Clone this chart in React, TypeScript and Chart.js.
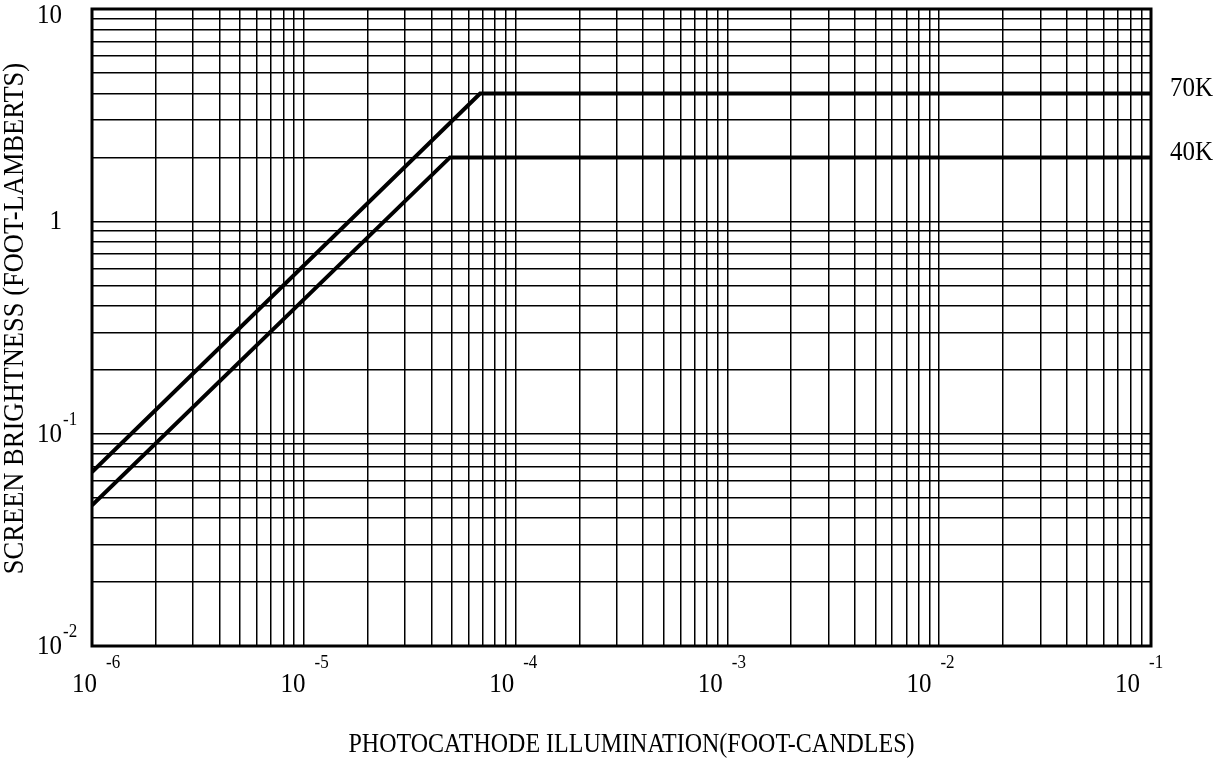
import React, { useEffect, useRef } from "react";
import { Chart, registerables } from "chart.js";

Chart.register(...registerables);

// ---- data ----
const seriesNames = ["70K", "40K"];
const illum70K = [1e-6, 6.8e-5, 1e-1];
const bright70K = [0.066, 4, 4];
const illum40K = [1e-6, 4.9e-5, 1e-1];
const bright40K = [0.046, 2, 2];

const xMin = 1e-6;
const xMax = 1e-1;
const yMin = 1e-2;
const yMax = 10;

const xTickValues = [1e-6, 1e-5, 1e-4, 1e-3, 1e-2, 1e-1];
const xTickBases = ["10", "10", "10", "10", "10", "10"];
const xTickExps = ["-6", "-5", "-4", "-3", "-2", "-1"];

const yTickValues = [10, 1, 0.1, 0.01];
const yTickBases = ["10", "1", "10", "10"];
const yTickExps = ["", "", "-1", "-2"];

const xTitle = "PHOTOCATHODE ILLUMINATION(FOOT-CANDLES)";
const yTitle = "SCREEN BRIGHTNESS (FOOT-LAMBERTS)";

const FONT = "'Liberation Serif', 'Times New Roman', Times, serif";
const STRETCH = 1.1;

function logGridTicks(min: number, max: number) {
  const out: { value: number }[] = [];
  const e0 = Math.round(Math.log10(min));
  const e1 = Math.round(Math.log10(max));
  for (let e = e0; e < e1; e++) {
    for (let k = 1; k <= 9; k++) out.push({ value: k * Math.pow(10, e) });
  }
  out.push({ value: max });
  return out;
}

const toPoints = (xs: number[], ys: number[]) => xs.map((x, i) => ({ x, y: ys[i] }));

function txt(
  ctx: CanvasRenderingContext2D,
  s: string,
  x: number,
  y: number,
  size: number,
  align: CanvasTextAlign
) {
  ctx.save();
  ctx.translate(x, y);
  ctx.scale(1, STRETCH);
  ctx.font = `${size}px ${FONT}`;
  ctx.textAlign = align;
  ctx.textBaseline = "alphabetic";
  ctx.fillText(s, 0, 0);
  ctx.restore();
}

const decorPlugin = {
  id: "decor",
  afterDraw(chart: any) {
    const ctx = chart.ctx as CanvasRenderingContext2D;
    const { left, right, top, bottom } = chart.chartArea;
    const xs = chart.scales.x;
    const ys = chart.scales.y;
    ctx.save();
    // frame
    ctx.strokeStyle = "#000";
    ctx.lineWidth = 3;
    ctx.strokeRect(left, top, right - left, bottom - top);

    ctx.fillStyle = "#000";
    // y tick labels
    yTickValues.forEach((v, i) => {
      let cy = ys.getPixelForValue(v);
      cy = Math.max(cy, top + 6);
      const baseRight = left - 30;
      txt(ctx, yTickBases[i], baseRight, cy + 8, 25, "right");
      if (yTickExps[i]) txt(ctx, yTickExps[i], baseRight + 1, cy - 9, 17, "left");
    });

    // x tick labels
    const n = xTickValues.length;
    const first = xs.getPixelForValue(xTickValues[0]) + 5;
    const last = xs.getPixelForValue(xTickValues[n - 1]) - 11;
    xTickValues.forEach((v, i) => {
      const baseRight = first + (i * (last - first)) / (n - 1);
      txt(ctx, xTickBases[i], baseRight, bottom + 46, 25, "right");
      txt(ctx, xTickExps[i], baseRight + 9, bottom + 22, 17, "left");
    });

    // series labels
    const lastVals = [bright70K[bright70K.length - 1], bright40K[bright40K.length - 1]];
    seriesNames.forEach((name, i) => {
      const y = ys.getPixelForValue(lastVals[i]);
      txt(ctx, name, right + 19, y + 3, 25, "left");
    });

    // x title
    txt(ctx, xTitle, (left + right) / 2 + 10, bottom + 106, 24, "center");

    // y title
    ctx.save();
    ctx.translate(23, (top + bottom) / 2 - 9);
    ctx.rotate(-Math.PI / 2);
    ctx.scale(1, STRETCH);
    ctx.font = `26.5px ${FONT}`;
    ctx.textAlign = "center";
    ctx.textBaseline = "alphabetic";
    ctx.fillText(yTitle, 0, 0);
    ctx.restore();

    ctx.restore();
  },
};

export default function App() {
  const ref = useRef<HTMLCanvasElement | null>(null);
  useEffect(() => {
    if (!ref.current) return;
    const lineStyle = {
      borderColor: "#000",
      borderWidth: 4,
      pointRadius: 0,
      tension: 0,
      fill: false,
    };
    const chart = new Chart(ref.current, {
      type: "line",
      data: {
        datasets: [
          { label: seriesNames[0], data: toPoints(illum70K, bright70K), ...lineStyle },
          { label: seriesNames[1], data: toPoints(illum40K, bright40K), ...lineStyle },
        ],
      },
      options: {
        animation: false,
        responsive: false,
        maintainAspectRatio: false,
        layout: { padding: { left: 92, top: 9, right: 77, bottom: 115 } },
        plugins: { legend: { display: false }, tooltip: { enabled: false } },
        scales: {
          x: {
            type: "logarithmic",
            min: xMin,
            max: xMax,
            afterBuildTicks: (s: any) => {
              s.ticks = logGridTicks(xMin, xMax);
            },
            afterFit: (s: any) => {
              s.height = 0;
            },
            ticks: { display: false },
            grid: { color: "#000", lineWidth: 1.5, drawTicks: false },
            border: { display: false },
          },
          y: {
            type: "logarithmic",
            min: yMin,
            max: yMax,
            afterBuildTicks: (s: any) => {
              s.ticks = logGridTicks(yMin, yMax);
            },
            afterFit: (s: any) => {
              s.width = 0;
            },
            ticks: { display: false },
            grid: { color: "#000", lineWidth: 1.5, drawTicks: false },
            border: { display: false },
          },
        },
      } as any,
      plugins: [decorPlugin],
    });
    return () => chart.destroy();
  }, []);
  return (
    <div style={{ position: "fixed", left: 0, top: 0, width: 1228, height: 761, background: "#fff" }}>
      <canvas ref={ref} width={1228} height={761} style={{ width: 1228, height: 761 }} />
    </div>
  );
}
